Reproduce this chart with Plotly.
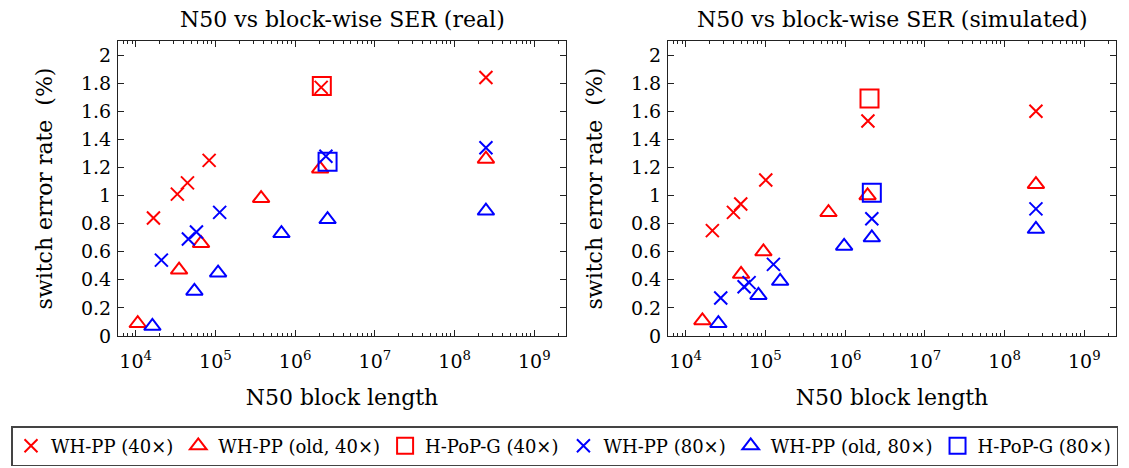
import plotly.graph_objects as go

# ---------------- data ----------------
series_names = ["WH-PP (40×)", "WH-PP (old, 40×)", "H-PoP-G (40×)",
                "WH-PP (80×)", "WH-PP (old, 80×)", "H-PoP-G (80×)"]

# real
real_wh40_x = [16700, 33300, 44600, 83400, 2.12e6, 2.47e8]
real_wh40_y = [0.84, 1.01, 1.09, 1.25, 1.77, 1.84]
real_old40_x = [10600, 35000, 66000, 374000, 2.06e6, 2.47e8]
real_old40_y = [0.09, 0.47, 0.66, 0.98, 1.19, 1.26]
real_hpop40_x = [2.16e6]
real_hpop40_y = [1.78]
real_wh80_x = [21000, 45800, 57800, 113000, 2.43e6, 2.47e8]
real_wh80_y = [0.54, 0.69, 0.74, 0.88, 1.28, 1.34]
real_old80_x = [16200, 54500, 108000, 673000, 2.55e6, 2.47e8]
real_old80_y = [0.07, 0.32, 0.45, 0.73, 0.83, 0.89]
real_hpop80_x = [2.55e6]
real_hpop80_y = [1.24]

# simulated
sim_wh40_x = [21600, 39700, 49000, 101000, 1.93e6, 2.47e8]
sim_wh40_y = [0.75, 0.88, 0.94, 1.11, 1.53, 1.60]
sim_old40_x = [16200, 49500, 94400, 618000, 1.91e6, 2.47e8]
sim_old40_y = [0.11, 0.44, 0.60, 0.88, 1.00, 1.08]
sim_hpop40_x = [2.02e6]
sim_hpop40_y = [1.69]
sim_wh80_x = [27500, 54000, 62400, 126000, 2.16e6, 2.47e8]
sim_wh80_y = [0.27, 0.35, 0.38, 0.51, 0.835, 0.905]
sim_old80_x = [25700, 81700, 153000, 971000, 2.16e6, 2.47e8]
sim_old80_y = [0.09, 0.29, 0.39, 0.64, 0.70, 0.76]
sim_hpop80_x = [2.16e6]
sim_hpop80_y = [1.02]

panel_titles = ["N50 vs block-wise SER (real)", "N50 vs block-wise SER (simulated)"]
x_tick_vals = [1e4, 1e5, 1e6, 1e7, 1e8, 1e9]
x_tick_text = ["10<sup>4</sup>", "10<sup>5</sup>", "10<sup>6</sup>",
               "10<sup>7</sup>", "10<sup>8</sup>", "10<sup>9</sup>"]
x_title = "N50 block length"
y_title = "switch error rate  (%)"

# ---------------- styling ----------------
RED = "#ff0000"
BLUE = "#0000ff"
FONT = "DejaVu Serif"
styles = [
    (RED, "x-thin", 13),
    (RED, "triangle-up-open", 14.5),
    (RED, "square-open", 18),
    (BLUE, "x-thin", 13),
    (BLUE, "triangle-up-open", 14.5),
    (BLUE, "square-open", 18),
]

panels = [
    [(real_wh40_x, real_wh40_y), (real_old40_x, real_old40_y), (real_hpop40_x, real_hpop40_y),
     (real_wh80_x, real_wh80_y), (real_old80_x, real_old80_y), (real_hpop80_x, real_hpop80_y)],
    [(sim_wh40_x, sim_wh40_y), (sim_old40_x, sim_old40_y), (sim_hpop40_x, sim_hpop40_y),
     (sim_wh80_x, sim_wh80_y), (sim_old80_x, sim_old80_y), (sim_hpop80_x, sim_hpop80_y)],
]

fig = go.Figure()
for p, panel in enumerate(panels):
    xa = "x" if p == 0 else "x2"
    ya = "y" if p == 0 else "y2"
    for i, (xs, ys) in enumerate(panel):
        color, sym, size = styles[i]
        fig.add_trace(go.Scatter(
            x=xs, y=ys, mode="markers", name=series_names[i],
            xaxis=xa, yaxis=ya, showlegend=(p == 0), legendgroup=series_names[i],
            marker=dict(symbol=sym, size=size, color=color,
                        line=dict(color=color, width=2)),
        ))

W, H = 1129, 468
left_dom = [118 / W, 566 / W]
right_dom = [668 / W, 1116 / W]
y_dom = [1 - 336 / H, 1 - 41 / H]

minor_vals = [m * 10 ** k for k in range(3, 10) for m in range(2, 10)]

def xaxis(domain, anchor):
    return dict(
        type="log", domain=domain, anchor=anchor, automargin=False,
        range=[3.778, 9.397],
        tickmode="array", tickvals=x_tick_vals, ticktext=x_tick_text,
        ticks="inside", ticklen=6, tickcolor="#222", tickwidth=1,
        ticklabelstandoff=8,
        minor=dict(tickmode="array", tickvals=minor_vals, ticks="inside",
                   ticklen=3, tickcolor="#222", tickwidth=1, showgrid=False),
        showline=True, linecolor="#222", linewidth=1, mirror="allticks",
        showgrid=False, zeroline=False,
        tickfont=dict(family=FONT, size=19, color="black"),
        title=dict(text=x_title, font=dict(family=FONT, size=22, color="black"), standoff=18),
    )

def yaxis(domain, anchor):
    return dict(
        domain=domain, anchor=anchor, range=[0, 2.1], automargin=False,
        tick0=0, dtick=0.2,
        ticks="inside", ticklen=6, tickcolor="#222", tickwidth=1,
        ticklabelstandoff=2,
        showline=True, linecolor="#222", linewidth=1, mirror="allticks",
        showgrid=False, zeroline=False,
        tickfont=dict(family=FONT, size=19, color="black"),
        title=dict(text=y_title, font=dict(family=FONT, size=22, color="black"), standoff=22),
    )

annotations = []
for dom, t in zip([left_dom, right_dom], panel_titles):
    annotations.append(dict(
        text=t, xref="paper", yref="paper", x=(dom[0] + dom[1]) / 2, y=1 - 20 / H,
        xanchor="center", yanchor="middle", showarrow=False,
        font=dict(family=FONT, size=22, color="black"),
    ))

fig.update_layout(
    width=W, height=H, autosize=False,
    margin=dict(l=0, r=0, t=0, b=0, autoexpand=False),
    paper_bgcolor="white", plot_bgcolor="white",
    xaxis=xaxis(left_dom, "y"), yaxis=yaxis(y_dom, "x"),
    xaxis2=xaxis(right_dom, "y2"), yaxis2=yaxis(y_dom, "x2"),
    annotations=annotations,
    legend=dict(
        orientation="h", x=0.5, xanchor="center", y=2 / H, yanchor="bottom",
        bordercolor="#444", borderwidth=1.5, bgcolor="white",
        font=dict(family=FONT, size=18, color="black"),
        itemwidth=30,
    ),
)

fig.write_html("out.html", config={"displayModeBar": False},
               post_script="document.body.style.margin='0';document.body.style.overflow='hidden';")
